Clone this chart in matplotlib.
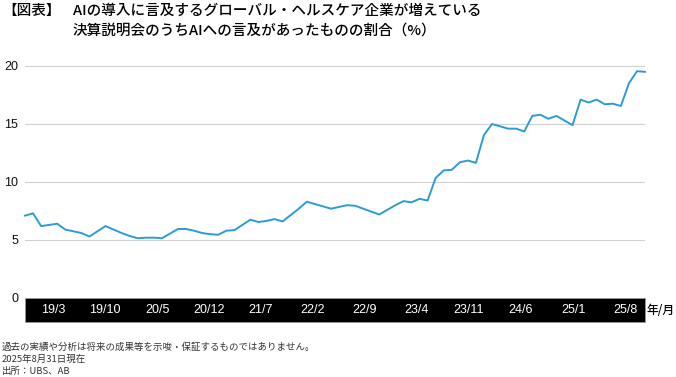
import numpy as np
import matplotlib.pyplot as plt
from matplotlib.patches import Rectangle

plt.rcParams['font.family'] = ['Noto Sans CJK JP', 'DejaVu Sans']
NUM_FONT = ['Liberation Sans', 'DejaVu Sans']

# share of earnings calls mentioning AI (%)
ai_share = [7.1, 7.3, 6.2, 6.3, 6.4, 5.9, 5.75, 5.6, 5.3, 5.75,
            6.2, 5.9, 5.6, 5.35, 5.15, 5.2, 5.2, 5.15, 5.55, 5.95,
            5.95, 5.8, 5.6, 5.5, 5.45, 5.8, 5.85, 6.3, 6.75, 6.55,
            6.65, 6.8, 6.6, 7.15, 7.7, 8.3, 8.1, 7.9, 7.7, 7.85,
            8.0, 7.95, 7.7, 7.45, 7.2, 7.6, 8.0, 8.35, 8.25, 8.55,
            8.4, 10.35, 11.0, 11.05, 11.7, 11.85, 11.65, 14.05, 15.0, 14.8,
            14.6, 14.6, 14.35, 15.7, 15.8, 15.45, 15.7, 15.3, 14.9, 17.1,
            16.85, 17.1, 16.7, 16.75, 16.55, 18.5, 19.55, 19.5]
date_labels = ['19/3', '19/10', '20/5', '20/12', '21/7', '22/2',
               '22/9', '23/4', '23/11', '24/6', '25/1', '25/8']
y_ticks = [0, 5, 10, 15, 20]

title1 = 'AIの導入に言及するグローバル・ヘルスケア企業が増えている'
title2 = '決算説明会のうちAIへの言及があったものの割合（%）'
notes = ['過去の実績や分析は将来の成果等を示唆・保証するものではありません。',
         '2025年8月31日現在',
         '出所：UBS、AB']

W, H = 676, 377
fig = plt.figure(figsize=(W / 100, H / 100), dpi=100)
ax = fig.add_axes([25 / W, (H - 298) / H, 620 / W, 243.6 / H])

x = np.arange(len(ai_share))
ax.plot(x, ai_share, color='#2b9cd8', lw=1.4, clip_on=False, zorder=3)
ax.set_xlim(0, len(ai_share) - 1)
ax.set_ylim(0, 21)

ax.set_yticks(y_ticks)
ax.set_yticklabels([str(v) for v in y_ticks], fontsize=9, color='#111111',
                   family=NUM_FONT)
ax.tick_params(axis='y', length=0, pad=5)
ax.set_xticks([])
for v in y_ticks[1:]:
    ax.axhline(v, color='#d2d2d2', lw=0.8, zorder=1)
for s in ax.spines.values():
    s.set_visible(False)

# black date band under the plot
band_h = 24 / 243.6
ax.add_patch(Rectangle((0, -band_h), 1, band_h, transform=ax.transAxes,
                       facecolor='black', edgecolor='#999999', lw=0.6,
                       clip_on=False, zorder=2))
label_pos = (np.linspace(53, 625, len(date_labels)) - 25) / 620
for p, lab in zip(label_pos, date_labels):
    ax.text(p, -band_h / 2, lab, transform=ax.transAxes, color='white',
            fontsize=9, ha='center', va='center', zorder=4, family=NUM_FONT)
fig.text(661 / W, 1 - 310 / H, '年/月', fontsize=8.5, ha='center',
         va='center', weight='medium')

fig.text(2 / W, 1 - 11 / H, '【図表】', fontsize=10.5, va='center',
         weight='medium')
fig.text(73 / W, 1 - 11 / H, title1, fontsize=10.5, va='center',
         weight='medium')
fig.text(73 / W, 1 - 31 / H, title2, fontsize=10.5, va='center',
         weight='medium')
for i, n in enumerate(notes):
    fig.text(2 / W, 1 - (347 + 12 * i) / H, n, fontsize=6.8,
             color='#333333', va='center')

fig.savefig('out.png', dpi=100)
